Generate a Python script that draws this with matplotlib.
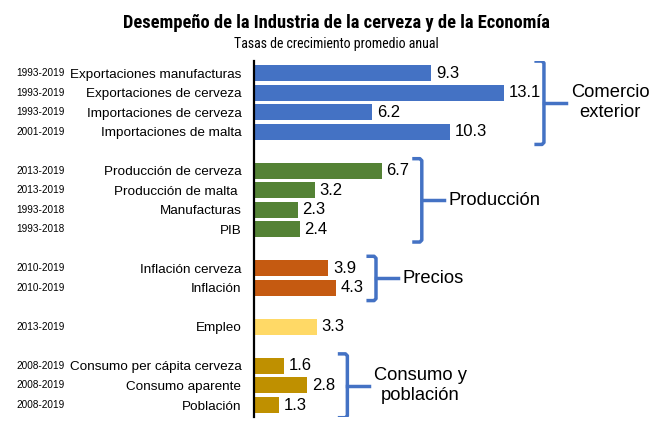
import matplotlib.pyplot as plt
from matplotlib import font_manager
from matplotlib.transforms import blended_transform_factory

# data, top to bottom, grouped
groups = ["Comercio\nexterior", "Producción", "Precios", "", "Consumo y\npoblación"]
cats = [
    ["Exportaciones manufacturas", "Exportaciones de cerveza",
     "Importaciones de cerveza", "Importaciones de malta"],
    ["Producción de cerveza", "Producción de malta ", "Manufacturas", "PIB"],
    ["Inflación cerveza", "Inflación"],
    ["Empleo"],
    ["Consumo per cápita cerveza", "Consumo aparente", "Población"],
]
periods = [
    ["1993-2019", "1993-2019", "1993-2019", "2001-2019"],
    ["2013-2019", "2013-2019", "1993-2018", "1993-2018"],
    ["2010-2019", "2010-2019"],
    ["2013-2019"],
    ["2008-2019", "2008-2019", "2008-2019"],
]
values = [
    [9.3, 13.1, 6.2, 10.3],
    [6.7, 3.2, 2.3, 2.4],
    [3.9, 4.3],
    [3.3],
    [1.6, 2.8, 1.3],
]
colors = ["#4472C4", "#548235", "#C55A11", "#FFD966", "#BF9000"]
brace_color = "#4472C4"

plt.rcParams['font.family'] = ['Liberation Sans', 'DejaVu Sans']

# pick a narrow font for the title if one is around
names = set(f.name for f in font_manager.fontManager.ttflist)
title_font = None
for n in ["Liberation Sans Narrow", "Roboto Condensed", "Open Sans Condensed", "DejaVu Sans Condensed"]:
    if n in names:
        title_font = n
        break

fig = plt.figure(figsize=(6.68, 4.33), dpi=100)
ax = fig.add_axes([0.380, 0.0376, 0.62, 0.8204])

pos = 0
ypos_all, labels_all = [], []
trans = blended_transform_factory(fig.transFigure, ax.transData)
for g in range(len(groups)):
    ys = []
    for c, p, v in zip(cats[g], periods[g], values[g]):
        ax.barh(pos, v, height=0.82, color=colors[g])
        ax.text(v + 0.25, pos, f"{v:.1f}", va='center', ha='left', fontsize=12)
        ax.text(0.024, pos, p, transform=trans, va='center', ha='left', fontsize=7.2)
        ypos_all.append(pos)
        labels_all.append(c)
        ys.append(pos)
        pos += 1
    if groups[g]:
        # bracket to the right of the group
        bx = max(values[g]) + 2.1
        top, bot = ys[0] - 0.62, ys[-1] + 0.65
        mid = (top + bot) / 2
        ax.plot([bx - 0.5, bx - 0.1, bx, bx, bx - 0.1, bx - 0.5],
                [top, top, top + 0.1, bot - 0.1, bot, bot],
                color=brace_color, lw=2.5, solid_capstyle='butt', solid_joinstyle='round')
        ax.plot([bx, bx + 1.15], [mid, mid], color=brace_color, lw=2.5)
        ax.text(bx + 1.4, mid, groups[g], va='center', ha='left',
                multialignment='center', fontsize=13.2, linespacing=1.2)
    pos += 1

ax.set_yticks(ypos_all)
ax.set_yticklabels(labels_all, fontsize=9.7)
ax.tick_params(axis='y', length=0, pad=9)
ax.set_xticks([])
ax.set_xlim(0, 21.7)
ax.set_ylim(17.6, -0.6)
for s in ["top", "right", "bottom"]:
    ax.spines[s].set_visible(False)
ax.spines["left"].set_linewidth(1.6)

if title_font:
    fig.text(0.503, 0.947, "Desempeño de la Industria de la cerveza y de la Economía",
             ha='center', va='center', fontsize=13.3, fontweight='bold', family=[title_font, 'DejaVu Sans'])
    fig.text(0.503, 0.898, "Tasas de crecimiento promedio anual",
             ha='center', va='center', fontsize=10, family=[title_font, 'DejaVu Sans'])
else:
    fig.text(0.503, 0.947, "Desempeño de la Industria de la cerveza y de la Economía",
             ha='center', va='center', fontsize=10.5, fontweight='bold')
    fig.text(0.503, 0.898, "Tasas de crecimiento promedio anual",
             ha='center', va='center', fontsize=7.5)

fig.savefig("out.png", dpi=100)
